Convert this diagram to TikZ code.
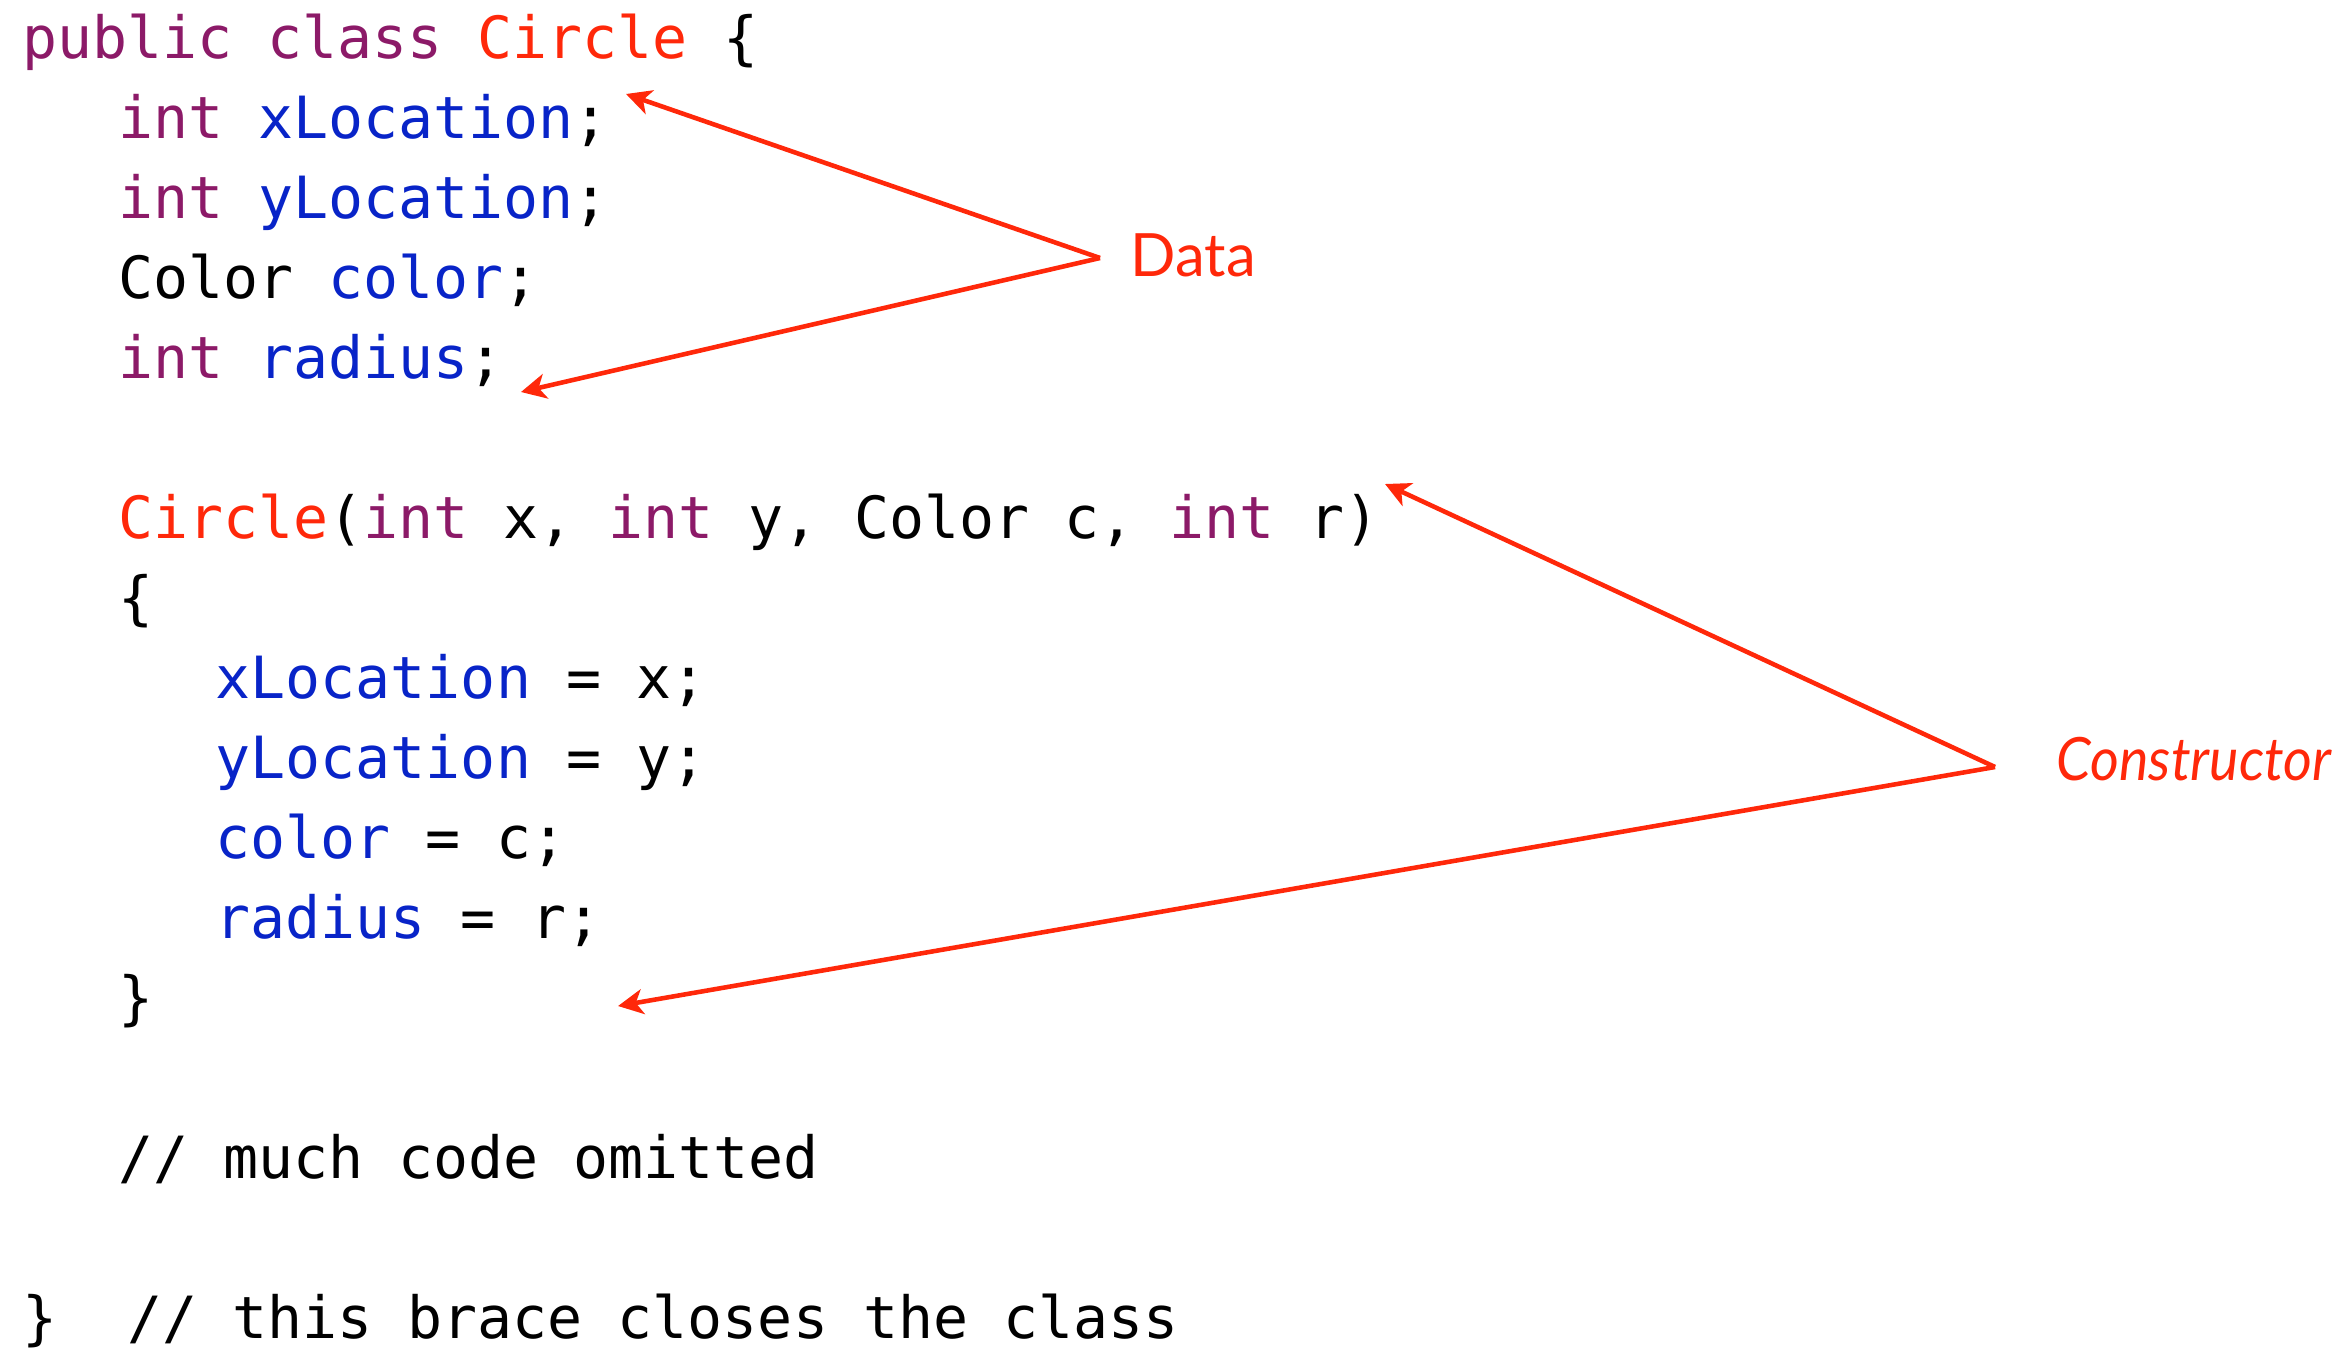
\documentclass[tikz,border=0pt]{standalone}
\usepackage{fontspec}
\setmonofont{DejaVu Sans Mono}
\newfontfamily\notefont{Lato}
\usetikzlibrary{arrows.meta}
\definecolor{kwpurple}{RGB}{140,26,104}
\definecolor{fieldblue}{RGB}{8,36,200}
\definecolor{classred}{RGB}{255,40,10}
\newcommand{\kwd}[1]{\textcolor{kwpurple}{#1}}
\newcommand{\fld}[1]{\textcolor{fieldblue}{#1}}
\newcommand{\cname}[1]{\textcolor{classred}{#1}}
\tikzset{codeline/.style={anchor=base west,inner sep=0pt,font=\ttfamily\fontsize{16.56pt}{20pt}\selectfont},
  note/.style={anchor=west,inner sep=0pt,text=classred,font=\notefont\fontsize{17pt}{20pt}\selectfont},
  pointer/.style={-{Stealth[length=0.25cm,width=0.25cm,inset=0.07cm]},classred,line width=1.3pt}}

\begin{document}
\begin{tikzpicture}
        \useasboundingbox (0,0) rectangle (23.48,-13.48);
        \node[codeline] (pubclass) at (0.215,-0.58) {\kwd{public class} \cname{Circle} \{};
        \node[codeline] (xloc) at (1.175,-1.38) {\kwd{int} \fld{xLocation};};
        \node[codeline] (yloc) at (1.175,-2.18) {\kwd{int} \fld{yLocation};};
        \node[codeline] (colorfield) at (1.175,-2.98) {Color \fld{color};};
        \node[codeline] (radiusfield) at (1.175,-3.78) {\kwd{int} \fld{radius};};
        \node[codeline] (ctorhead) at (1.175,-5.38) {\cname{Circle}(\kwd{int} x, \kwd{int} y, Color c, \kwd{int} r)};
        \node[codeline] (openbrace) at (1.175,-6.18) {\{};
        \node[codeline] (setx) at (2.15,-6.98) {\fld{xLocation} = x;};
        \node[codeline] (sety) at (2.15,-7.78) {\fld{yLocation} = y;};
        \node[codeline] (setcolor) at (2.15,-8.58) {\fld{color} = c;};
        \node[codeline] (setradius) at (2.15,-9.38) {\fld{radius} = r;};
        \node[codeline] (closebrace) at (1.175,-10.18) {\}};
        \node[codeline] (omitted) at (1.175,-11.78) {// much code omitted};
        \node[codeline] (classend) at (0.215,-13.38) {\}\ \ // this brace closes the class};
        \node[note] (data) at (11.30,-2.55) {Data};
        \node[note] (ctor) at (20.56,-7.59) {\scalebox{0.93}[1]{\itshape Constructor}};
        \coordinate (datatip) at (11.00,-2.58);
        \coordinate (xlochead) at (6.26,-0.94);
        \coordinate (radiushead) at (5.21,-3.92);
        \coordinate (ctortip) at (19.95,-7.67);
        \coordinate (ctorheadpt) at (13.85,-4.84);
        \coordinate (bodyhead) at (6.18,-10.06);
        \draw[pointer] (datatip) -- (xlochead);
        \draw[pointer] (datatip) -- (radiushead);
        \draw[pointer] (ctortip) -- (ctorheadpt);
        \draw[pointer] (ctortip) -- (bodyhead);
\end{tikzpicture}
\end{document}
